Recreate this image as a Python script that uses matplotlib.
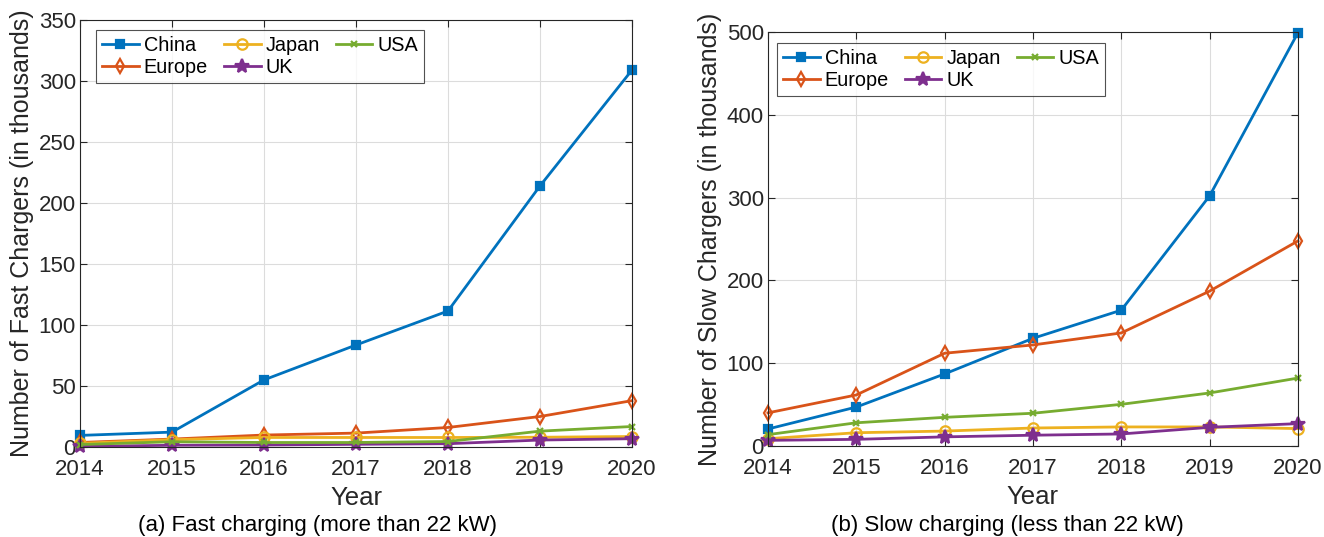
import matplotlib.pyplot as plt

plt.rcParams['font.family'] = ['Liberation Sans', 'DejaVu Sans']

years = [2014, 2015, 2016, 2017, 2018, 2019, 2020]

# fast chargers (thousands)
fast_china = [9.5, 12.2, 55, 83.6, 111.5, 214, 309]
fast_europe = [3.7, 6.5, 9.8, 11.4, 16, 25, 38]
fast_japan = [3.0, 6.0, 7.8, 7.8, 7.8, 8.0, 8.6]
fast_uk = [0.5, 1.4, 1.6, 2.2, 2.7, 5.7, 6.8]
fast_usa = [2.0, 4.3, 3.7, 3.7, 4.5, 13, 16.8]

# slow chargers (thousands)
slow_china = [20.5, 47, 87, 130, 164, 302, 499]
slow_europe = [40, 61.6, 112, 122, 136.5, 187, 247.6]
slow_japan = [8.8, 16, 18, 21.7, 23, 23, 21]
slow_uk = [6.8, 8, 11, 13, 14.5, 22.5, 27]
slow_usa = [13.7, 28, 34.6, 39.5, 50.3, 64, 82]

names = ["China", "Europe", "Japan", "UK", "USA"]
colors = ["#0072BD", "#D95319", "#EDB120", "#7E2F8E", "#77AC30"]
markers = ["s", "d", "o", "*", "x"]
msizes = [6, 7.5, 7.5, 10, 5]
mfill = [True, False, False, True, True]

txt = '#262626'

fig = plt.figure(figsize=(13.24, 5.37), dpi=100)
ax1 = fig.add_axes([0.0604, 0.1676, 0.4169, 0.795])
ax2 = fig.add_axes([0.5800, 0.1695, 0.4003, 0.771])

def draw(ax, series, ymax, ystep, ylabel, leg_anchor):
    for name, vals, c, m, ms, f in zip(names, series, colors, markers, msizes, mfill):
        ax.plot(years, vals, color=c, marker=m, markersize=ms, linewidth=2,
                markerfacecolor=c if f else 'none', markeredgewidth=1.6, label=name,
                clip_on=False)
    ax.set_xlim(2014, 2020)
    ax.set_ylim(0, ymax)
    ax.set_xticks(years)
    ax.set_yticks(range(0, ymax + 1, ystep))
    ax.grid(True, color='#dcdcdc', linewidth=0.8)
    ax.tick_params(direction='in', top=True, right=True, labelsize=16,
                   length=5, color=txt, labelcolor=txt)
    ax.tick_params(axis='x', pad=9)
    ax.tick_params(axis='y', pad=3)
    for s in ax.spines.values():
        s.set_color(txt)
    ax.set_xlabel("Year", fontsize=18.5, labelpad=4, color=txt)
    ax.set_ylabel(ylabel, fontsize=18, labelpad=3, color=txt)
    leg = ax.legend(loc='upper left', bbox_to_anchor=leg_anchor, ncol=3,
                    fontsize=14.3, frameon=True, fancybox=False, edgecolor=txt,
                    handlelength=1.85, handletextpad=0.25, columnspacing=0.8,
                    labelspacing=0.15, borderpad=0.3, borderaxespad=0)
    leg.get_frame().set_linewidth(0.8)
    for t in leg.get_texts():
        t.set_color('black')

draw(ax1, [fast_china, fast_europe, fast_japan, fast_uk, fast_usa], 350, 50,
     "Number of Fast Chargers (in thousands)", (0.029, 0.977))
draw(ax2, [slow_china, slow_europe, slow_japan, slow_uk, slow_usa], 500, 100,
     "Number of Slow Chargers (in thousands)", (0.017, 0.973))

fig.text(0.240, 0.012, "(a) Fast charging (more than 22 kW)", fontsize=16,
         ha='center', va='baseline', color='black')
fig.text(0.761, 0.012, "(b) Slow charging (less than 22 kW)", fontsize=16,
         ha='center', va='baseline', color='black')

fig.savefig("out.png", dpi=100)
